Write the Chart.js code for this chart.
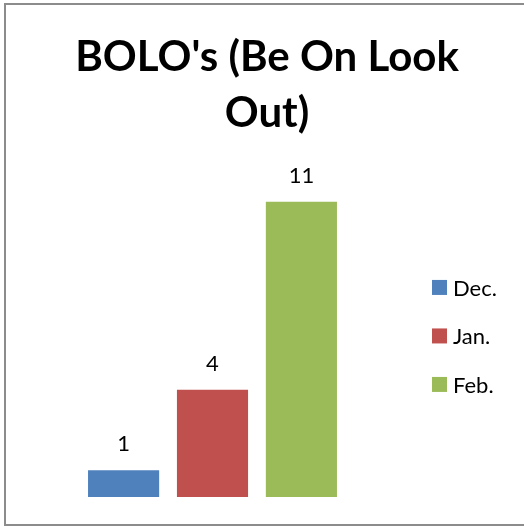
<!DOCTYPE html>
<html>
<head>
<meta charset="utf-8">
<script src="https://cdn.jsdelivr.net/npm/chart.js@4.4.1/dist/chart.umd.min.js"></script>
<style>
  html, body { margin: 0; padding: 0; overflow: hidden; background: #fff; }
  #frame {
    position: absolute; left: 4px; top: 3px; width: 540px; height: 523px;
    border: 2px solid #8c8c8c; box-sizing: border-box;
  }
  #wrap { position: absolute; left: 0; top: 0; width: 524px; height: 526px; }
</style>
</head>
<body>
<div id="frame"></div>
<div id="wrap"><canvas id="chart"></canvas></div>
<script>
// chart data
const months = ['Dec.', 'Jan.', 'Feb.'];
const bolos = [1, 4, 11];
const monthColors = ['#4F81BD', '#C0504D', '#9BBB59'];
const titleLines = ["BOLO's (Be On Look", 'Out)'];

// draws the value over each bar (no datalabels plugin available)
const valueLabels = {
    id: 'valueLabels',
    afterDatasetsDraw(chart) {
        const ctx = chart.ctx;
        ctx.save();
        ctx.fillStyle = '#000';
        ctx.font = '22px Lato';
        ctx.textAlign = 'center';
        ctx.textBaseline = 'middle';
        chart.data.datasets.forEach((ds, i) => {
            chart.getDatasetMeta(i).data.forEach((bar, j) => {
                ctx.fillText(String(ds.data[j]), bar.x, bar.y - 26);
            });
        });
        ctx.restore();
    }
};

// legend drawn by hand so it sits centred on the plot area, like Excel's
const sideLegend = {
    id: 'sideLegend',
    afterDraw(chart) {
        const ctx = chart.ctx;
        const area = chart.chartArea;
        const mid = (area.top + area.bottom) / 2;
        const rowGap = 48.5;
        const n = chart.data.datasets.length;
        ctx.save();
        ctx.font = '22px Lato';
        ctx.textBaseline = 'middle';
        ctx.textAlign = 'left';
        chart.data.datasets.forEach((ds, i) => {
            const cy = mid + (i - (n - 1) / 2) * rowGap;
            const bx = area.right + 29;
            ctx.fillStyle = ds.backgroundColor;
            ctx.fillRect(bx, cy - 7.5, 15, 15);
            ctx.fillStyle = '#000';
            ctx.fillText(ds.label, bx + 21, cy + 1);
        });
        ctx.restore();
    }
};

const datasets = months.map((m, i) => ({
    label: m,
    data: [bolos[i]],
    backgroundColor: monthColors[i],
    borderWidth: 0,
    barPercentage: 0.8,
    categoryPercentage: 0.7
}));

new Chart(document.getElementById('chart'), {
    type: 'bar',
    data: { labels: [''], datasets: datasets },
    options: {
        responsive: true,
        maintainAspectRatio: false,
        animation: false,
        layout: { padding: { left: 22, right: 12, top: 0, bottom: 29 } },
        scales: {
            x: { display: false },
            // invisible axis on the right keeps room for the legend
            y: {
                position: 'right',
                min: 0, max: 12,
                ticks: { display: false },
                grid: { display: false },
                border: { display: false },
                afterFit(scale) { scale.width = 109; }
            }
        },
        plugins: {
            title: {
                display: true,
                text: titleLines,
                color: '#000',
                font: { family: 'Lato', size: 42, weight: 'bold', lineHeight: 1.32 },
                padding: { top: 30, bottom: 34 }
            },
            legend: { display: false },
            tooltip: { enabled: false }
        }
    },
    plugins: [valueLabels, sideLegend]
});
</script>
</body>
</html>
